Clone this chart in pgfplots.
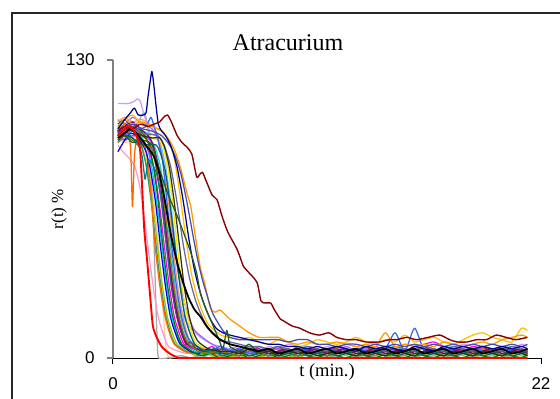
\documentclass[border=0pt]{standalone}
\usepackage{pgfplots}
\usepackage{pgfplotstable}
\pgfplotsset{compat=1.18}
\usetikzlibrary{calc}
\usepackage{fontspec}
\setmainfont{Liberation Serif}
\newfontfamily\arial{Liberation Sans}

\definecolor{cg}{HTML}{A6A6A6}
\definecolor{cpe}{HTML}{FFCC99}
\definecolor{cpk}{HTML}{FF99CC}
\definecolor{co1}{HTML}{FF6600}
\definecolor{csg}{HTML}{339966}
\definecolor{cyg}{HTML}{99CC00}
\definecolor{clv}{HTML}{CC99FF}
\definecolor{cb}{HTML}{0000FF}
\definecolor{ccy}{HTML}{00CCFF}
\definecolor{cmg}{HTML}{FF00FF}
\definecolor{cgr}{HTML}{008000}
\definecolor{cbr}{HTML}{993300}
\definecolor{ctl}{HTML}{008080}
\definecolor{cpu}{HTML}{800080}
\definecolor{col}{HTML}{808000}
\definecolor{crb}{HTML}{3366FF}
\definecolor{ctq}{HTML}{33CCCC}
\definecolor{cvi}{HTML}{9966FF}
\definecolor{cco}{HTML}{FF9966}
\definecolor{cdt}{HTML}{006666}
\definecolor{cgd}{HTML}{FFC000}
\definecolor{csk}{HTML}{66CCFF}
\definecolor{csl}{HTML}{666699}
\definecolor{cdo}{HTML}{333300}
\definecolor{cnv}{HTML}{000099}
\definecolor{cdg}{HTML}{1F5F1F}
\definecolor{co2}{HTML}{FF9900}
\definecolor{csb}{HTML}{4B4BA8}
\definecolor{cye}{HTML}{FFE600}
\definecolor{cmp}{HTML}{9933FF}
\definecolor{cmr}{HTML}{8B0000}

% tails of all curves from t = 6 min on
\pgfplotstableread{
t g pe pk o1 sg yg lv b cy mg gr br tl pu ol rb tq vi co dt gd sk bk sl do nv dg o2 sb ye mp
6.0 0 1 2 2 1 1 4 2 3 3 1 3 2 3 2 3 4 4 2 2 9 3 6 7 3 10 5 17 9 2 3
6.5 1 0 3 1 2 0 5 1 2 4 2 2 3 2 1 4 3 3 1 3 8 2 5 6 2 9 3 14 8 1 4
7.0 0 1 1 3 1 2 4 3 4 2 0 4 1 3 3 2 5 4 2 1 9 4 4 5 4 8 6 11 8 3 2
7.5 1 0 2 2 3 1 3 2 2 5 1 2 2 4 2 3 3 5 3 2 7 3 3 5 2 7 2 9 8 2 3
8.0 0 2 3 1 2 0 5 1 3 3 2 3 1 2 1 4 4 3 1 3 6 2 4 4 3 6 4 9 8 1 4
8.5 1 1 1 3 1 2 4 2 4 4 0 5 3 3 2 2 5 4 2 1 8 3 2 5 1 6 2 9 8 3 2
9.0 0 0 2 2 2 1 6 3 2 2 1 2 2 4 3 3 3 2 3 2 7 4 3 4 3 5 3 7 7 2 3
9.5 1 1 3 1 3 0 5 1 3 5 2 3 1 2 1 4 4 3 1 3 5 2 4 3 2 5 4 6 8 1 4
10.0 0 2 1 3 1 2 4 2 4 3 1 4 3 3 2 3 5 5 2 1 6 3 2 5 3 4 2 7 8 2 2
10.5 1 0 2 2 2 1 3 3 2 4 0 2 2 4 3 2 3 3 3 2 8 4 3 4 1 5 3 6 6 3 3
11.0 0 1 3 1 1 0 5 1 3 2 2 3 1 2 1 4 4 4 1 3 7 2 4 3 2 4 4 6 6 1 4
11.5 1 2 1 3 3 2 4 2 4 5 1 4 3 3 2 3 5 3 2 1 6 3 2 5 3 5 2 7 5 2 2
12.0 0 1 2 2 2 1 6 3 2 3 0 2 2 4 3 2 3 5 3 2 7 4 3 4 2 4 3 6 6 3 3
12.5 1 0 3 4 1 0 5 1 3 4 2 3 1 2 1 4 4 3 1 3 9 2 4 3 1 3 4 5 6 2 4
13.0 0 1 1 2 2 2 4 2 4 2 1 5 3 3 2 3 5 4 2 1 7 3 2 5 3 5 2 6 5 1 2
13.5 1 2 2 1 3 1 3 3 2 5 0 2 2 4 3 2 3 3 3 2 6 4 3 4 2 4 3 5 6 3 3
14.0 0 1 3 3 1 0 5 1 3 3 2 3 1 2 1 4 4 5 1 3 8 2 4 3 1 5 4 11 5 2 4
14.5 1 0 1 2 2 2 4 2 4 4 1 4 3 3 2 11 5 3 2 1 7 3 2 5 3 4 2 5 6 1 2
15.0 0 1 2 1 3 1 6 3 2 2 0 2 2 4 3 3 3 4 3 2 10 4 3 4 2 3 3 6 5 3 3
15.5 1 2 3 3 1 0 5 1 3 5 2 3 1 2 1 13 4 3 1 3 7 2 4 3 1 5 4 5 6 2 4
16.0 0 1 1 2 2 2 4 2 4 6 1 5 3 3 2 3 5 5 2 1 8 3 2 5 3 4 2 6 5 1 2
16.5 1 0 2 4 3 1 3 3 2 7 0 2 2 4 3 2 3 3 3 2 9 4 3 4 2 3 3 5 6 3 3
17.0 0 1 3 2 1 0 5 1 3 5 2 3 1 2 1 4 4 4 1 3 7 2 4 3 1 5 4 7 5 2 4
17.5 1 2 1 1 2 2 4 2 4 4 1 4 3 3 2 3 5 3 2 1 6 3 2 5 3 4 2 6 6 1 2
18.0 0 1 2 3 3 1 6 3 2 3 0 2 2 4 3 2 3 5 3 2 8 4 3 4 2 5 3 5 5 3 3
18.5 1 0 3 2 1 0 5 1 3 5 2 3 1 2 1 4 4 3 1 3 10 2 4 3 1 4 4 6 6 2 4
19.0 0 1 1 4 2 2 4 2 4 4 1 5 3 3 2 3 5 4 2 1 11 3 2 5 3 5 2 7 5 1 2
19.5 1 2 2 2 3 1 3 3 2 3 0 2 2 4 3 2 3 3 3 2 9 4 3 4 2 4 3 6 6 3 3
20.0 0 1 3 1 1 0 5 1 3 5 2 3 1 2 1 4 4 5 1 3 8 2 4 3 1 5 4 8 5 2 4
20.5 1 0 1 3 2 2 4 2 4 4 1 4 3 3 2 3 5 3 2 1 7 3 2 5 3 4 2 9 6 1 2
21.0 0 1 2 2 3 1 6 3 2 3 0 2 2 4 3 2 3 4 3 2 13 4 3 4 2 5 3 10 5 3 3
21.3 1 2 3 3 1 0 5 1 3 4 2 3 1 2 1 4 4 3 1 3 12 2 4 3 1 4 4 9 6 2 4
}\tail

\newcommand{\crv}[3]{%
  \addplot[#1] coordinates {#3};
  \addplot[#1] table[x=t,y=#2] {\tail};
}

\begin{document}
\begin{tikzpicture}
\begin{axis}[
  name=ax,
  scale only axis, width=428pt, height=298pt,
  xmin=0, xmax=22, ymin=0, ymax=130,
  axis lines*=left,
  x axis line style={black, line width=1pt},
  y axis line style={gray, line width=1.4pt},
  xtick={0,22}, ytick={0,130},
  tick align=outside, major tick length=6pt,
  xtick style={black, line width=1pt},
  ytick style={gray, line width=1.2pt},
  /pgf/number format/assume math mode=true,
  ticklabel style={font=\arial\fontsize{17}{17}\selectfont},
  yticklabel style={anchor=east, xshift=-9pt},
  xticklabel style={anchor=north, yshift=-10pt},
  xlabel={t (min.)},
  ylabel={r(t) \%},
  every axis x label/.style={at={(axis description cs:0.5,0)}, anchor=center, yshift=-14pt, font=\fontsize{18.5}{18.5}\selectfont},
  every axis y label/.style={at={(axis description cs:0,0.5)}, anchor=center, rotate=90, yshift=54pt, font=\fontsize{17}{17}\selectfont},
  every axis plot/.append style={smooth, tension=0.4, line width=1.25pt, line join=round, mark=none},
]
\crv{cpe}{pe}{(0.25,96)(0.6,94)(1.0,95)(1.35,94)(1.6,90)(1.85,82)(2.1,68)(2.35,48)(2.5,30)(2.65,12)(2.75,3)(2.9,0)(3.5,1)(4.0,0)(4.5,2)(5.0,1)(5.5,0)(6.0,1)}
\crv{cg}{g}{(0.25,94)(0.6,96)(1.0,99)(1.3,103)(1.6,107)(1.8,100)(1.95,80)(2.1,52)(2.2,25)(2.28,6)(2.35,0)(2.8,0)(3.5,1)(4.0,0)(4.5,1)(5.0,0)(5.5,1)(6.0,0)}
\crv{cpk}{pk}{(0.25,93)(0.5,90)(0.85,87)(1.1,84)(1.35,76)(1.6,62)(1.85,45)(2.1,29)(2.35,17)(2.6,10)(2.85,5)(3.35,3)(3.8,2)(4.3,3)(4.8,1)(5.3,2)(5.6,3)(6.0,2)}
\crv{cyg}{yg}{(0.25,96)(0.6,98)(1.0,95)(1.3,94)(1.55,90)(1.8,81)(2.05,67)(2.3,48)(2.55,31)(2.8,18)(3.05,11)(3.3,6)(3.8,3)(4.3,1)(4.8,2)(5.3,0)(5.6,1)(6.0,1)}
\crv{csk}{sk}{(0.25,98)(0.6,100)(1.0,101)(1.5,99)(2.2,97)(2.45,93)(2.7,84)(2.95,69)(3.2,50)(3.45,32)(3.7,19)(3.95,11)(4.2,7)(4.7,4)(5.2,3)(5.6,4)(6.0,3)}
\crv{ccy}{cy}{(0.25,100)(0.6,97)(1.0,99)(1.25,98)(1.5,96)(1.75,92)(2.0,83)(2.25,68)(2.5,50)(2.75,32)(3.0,19)(3.25,11)(3.5,6)(4.0,4)(4.5,2)(5.0,3)(5.5,4)(6.0,3)}
\crv{ctq}{tq}{(0.25,99)(0.6,97)(1.0,100)(1.45,97)(1.95,95)(2.2,91)(2.45,83)(2.7,68)(2.95,49)(3.2,31)(3.45,19)(3.7,11)(3.95,7)(4.45,5)(4.9,3)(5.4,4)(6.0,4)}
\crv{clv}{lv}{(0.25,111)(0.5,111)(0.8,111)(1.1,112)(1.25,113)(1.4,112)(1.6,106)(1.8,101)(2.1,89)(2.4,73)(2.7,53)(3.0,37)(3.3,27)(3.6,19)(3.9,14)(4.5,9)(5.1,6)(5.6,5)(6.0,4)}
\crv{cmg}{mg}{(0.25,97)(0.6,95)(1.0,97)(1.3,96)(1.65,93)(1.9,89)(2.15,81)(2.4,66)(2.65,48)(2.9,31)(3.15,18)(3.4,11)(3.65,6)(4.15,4)(4.6,3)(5.1,5)(5.5,2)(6.0,3)}
\crv{cmp}{mp}{(0.25,99)(0.6,97)(1.0,100)(1.5,98)(1.85,96)(2.1,92)(2.35,83)(2.6,68)(2.85,50)(3.1,32)(3.35,19)(3.6,11)(3.85,7)(4.35,5)(4.8,3)(5.3,4)(6.0,3)}
\crv{cvi}{vi}{(0.25,104)(0.6,102)(1.0,105)(1.4,103)(2.0,100)(2.28,96)(2.55,87)(2.83,71)(3.1,52)(3.38,36)(3.65,25)(3.93,17)(4.2,12)(4.75,8)(5.3,5)(5.7,3)(6.0,4)}
\crv{cco}{co}{(0.25,103)(0.6,105)(1.0,103)(1.5,104)(2.05,101)(2.3,97)(2.55,87)(2.8,72)(3.05,52)(3.3,33)(3.55,20)(3.8,11)(4.05,6)(4.55,3)(5.0,2)(5.5,3)(6.0,2)}
\crv{cye}{ye}{(0.25,97)(0.6,99)(1.0,96)(1.5,98)(2.0,96)(2.3,95)(2.55,93)(2.8,84)(3.05,69)(3.3,49)(3.55,31)(3.8,19)(4.05,11)(4.3,6)(4.8,4)(5.3,3)(5.6,2)(6.0,2)}
\crv{cgd}{gd}{(0.25,100)(0.6,104)(1.0,106)(1.4,103)(1.9,102)(2.3,100)(2.55,99)(2.85,95)(3.15,87)(3.45,71)(3.75,52)(4.05,36)(4.35,26)(4.65,19)(4.95,14)(5.55,10)(6.0,9)}
\crv{csg}{sg}{(0.25,99)(0.6,102)(0.9,100)(1.2,97)(1.45,93)(1.7,84)(1.95,69)(2.2,50)(2.45,32)(2.7,19)(2.95,11)(3.2,6)(3.7,3)(4.2,2)(4.7,1)(5.2,3)(5.6,2)(6.0,1)}
\crv{co1}{o1}{(0.25,98)(0.5,103)(0.7,100)(0.9,92)(1.0,66)(1.1,88)(1.25,97)(1.5,95)(1.75,88)(1.95,72)(2.15,50)(2.4,32)(2.65,19)(2.9,11)(3.15,6)(3.65,3)(4.1,2)(4.6,4)(5.1,2)(5.5,1)(6.0,2)}
\crv{cb}{b}{(0.25,90)(0.6,95)(0.9,98)(1.2,97)(1.45,94)(1.7,90)(1.95,81)(2.2,67)(2.45,48)(2.7,31)(2.95,18)(3.2,11)(3.45,6)(3.95,3)(4.4,2)(4.9,4)(5.4,2)(6.0,2)}
\crv{cgr}{gr}{(0.25,102)(0.6,104)(0.95,101)(1.3,100)(1.55,98)(1.8,94)(2.05,85)(2.3,70)(2.55,50)(2.8,32)(3.05,19)(3.3,11)(3.55,6)(4.05,3)(4.5,1)(5.0,2)(5.5,0)(6.0,1)}
\crv{cbr}{br}{(0.25,96)(0.6,99)(1.0,101)(1.4,98)(1.75,95)(2.0,91)(2.25,82)(2.5,68)(2.75,49)(3.0,31)(3.25,19)(3.5,11)(3.75,6)(4.0,7)(4.25,4)(4.7,3)(5.2,2)(5.6,4)(6.0,3)}
\crv{ctl}{tl}{(0.25,97)(0.6,99)(1.0,96)(1.3,93)(1.5,88)(1.65,78)(1.8,86)(2.0,85)(2.25,80)(2.5,68)(2.75,49)(3.0,32)(3.25,20)(3.5,12)(3.75,7)(4.25,4)(4.7,2)(5.2,3)(5.6,1)(6.0,2)}
\crv{cpu}{pu}{(0.25,98)(0.6,101)(1.0,103)(1.4,100)(1.8,97)(2.05,93)(2.3,84)(2.55,69)(2.8,50)(3.05,32)(3.3,19)(3.55,11)(3.8,6)(4.3,4)(4.8,3)(5.3,4)(5.6,2)(6.0,3)}
\crv{col}{ol}{(0.25,94)(0.6,97)(1.0,95)(1.4,92)(1.9,92)(2.15,88)(2.4,80)(2.65,66)(2.9,47)(3.15,30)(3.4,18)(3.65,10)(3.9,6)(4.4,3)(4.9,2)(5.4,3)(6.0,2)}
\crv{crb}{rb}{(0.25,101)(0.6,99)(1.0,102)(1.3,100)(1.7,101)(1.95,105)(2.15,100)(2.35,94)(2.55,86)(2.75,70)(3.0,50)(3.25,32)(3.5,19)(3.75,11)(4.0,7)(4.5,4)(5.0,3)(5.5,5)(6.0,3)}
\crv{cdt}{dt}{(0.25,95)(0.6,97)(1.0,96)(1.5,93)(2.2,93)(2.45,89)(2.7,81)(2.95,66)(3.2,48)(3.45,31)(3.7,18)(3.95,11)(4.2,6)(4.7,3)(5.2,4)(5.6,2)(6.0,2)}
\crv{csl}{sl}{(0.25,99)(0.6,101)(1.0,100)(1.5,98)(2.3,97)(2.62,93)(2.95,84)(3.27,69)(3.6,50)(3.93,35)(4.25,25)(4.58,18)(4.9,13)(5.55,8)(6.0,7)}
\crv{cdo}{do}{(0.25,97)(0.6,100)(1.0,99)(1.5,97)(2.0,96)(2.4,96)(2.65,92)(2.9,83)(3.15,68)(3.4,50)(3.65,32)(3.9,19)(4.15,11)(4.4,7)(4.9,4)(5.4,3)(6.0,3)}
\crv{co2}{o2}{(0.25,101)(0.6,104)(1.0,102)(1.5,103)(2.0,101)(2.5,99)(2.9,95)(3.2,90)(3.5,82)(3.8,72)(4.0,66)(4.25,52)(4.5,39)(4.7,33)(5.0,22)(5.25,20)(5.5,21)(5.75,19)(6.0,17)}
\crv{csb}{sb}{(0.25,98)(0.6,100)(1.0,102)(1.5,100)(2.0,99)(2.5,97)(2.9,93)(3.2,88)(3.5,80)(3.8,68)(4.1,54)(4.35,43)(4.6,34)(4.85,27)(5.1,20)(5.35,16)(5.65,12)(6.0,9)}
\crv{cnv}{nv}{(0.25,100)(0.6,104)(0.9,107)(1.1,109)(1.3,106)(1.55,106)(1.7,107)(1.8,114)(1.9,120)(2.0,125)(2.1,119)(2.2,111)(2.33,102)(2.5,99)(2.7,97)(3.0,92)(3.3,83)(3.6,69)(3.9,52)(4.15,40)(4.4,31)(4.7,23)(5.0,17)(5.3,13)(5.65,11)(6.0,10)}
\crv{cdg}{dg}{(0.25,95)(0.6,97)(1.0,94)(1.5,95)(2.0,93)(2.4,82)(2.8,72)(3.3,62)(3.7,53)(4.0,46)(4.3,37)(4.5,28)(4.8,21)(5.15,14)(5.45,8)(5.65,4)(5.85,12)(6.0,5)}
\addplot[cmr, line width=1.4pt] coordinates {(0.25,99)(0.6,101)(1.0,100)(1.4,102)(1.8,101)(2.1,102)(2.4,103)(2.6,105)(2.8,106)(3.0,103)(3.3,97)(3.55,94)(3.8,92)(4.05,89)(4.3,79)(4.45,80)(4.6,81)(4.8,77)(5.1,71)(5.35,69)(5.6,62)(5.9,55)(6.4,47)(6.7,40)(6.9,38)(7.4,33)(7.6,25)(7.8,24)(8.1,24)(8.3,21)(8.6,17)(8.8,16)(9.2,14)(9.6,13)(10.1,11)(10.6,10)(11.1,11)(11.5,9)(12.0,8)(12.5,8)(13.0,7)(13.7,7)(14.2,8)(14.6,8)(15.1,9)(15.6,8)(16.2,9)(16.8,10)(17.3,8)(17.7,7)(18.2,7)(18.7,8)(19.2,8)(19.7,10)(20.2,9)(20.7,8)(21.3,9)};
\crv{black, line width=1.8pt}{bk}{(0.25,96)(0.6,98)(0.9,100)(1.2,98)(1.5,95)(1.85,91)(2.1,88)(2.4,80)(2.7,67)(2.95,55)(3.15,47)(3.35,40)(3.6,33)(3.9,26)(4.2,21)(4.5,18)(4.8,14)(5.1,11)(5.5,8)(6.0,6)}
\addplot[red, line width=1.9pt] coordinates {(0.25,97)(0.5,99)(0.75,101)(1.0,100)(1.2,97)(1.4,90)(1.6,57)(1.75,43)(1.9,28)(2.05,14)(2.25,9)(2.5,5)(2.75,3)(3.0,1.5)(3.25,0.5)(3.5,0)(6.0,0)(21.3,0)};
\end{axis}
\coordinate (O) at (ax.south west);
\pgfresetboundingbox
\useasboundingbox ($(O)+(-113pt,-41pt)$) rectangle ($(O)+(447pt,358pt)$);
\draw[line width=1.3pt, black!85] ($(O)+(-101pt,-80pt)$) -- ($(O)+(-101pt,345pt)$) -- ($(O)+(500pt,345pt)$);
\node[font=\fontsize{24}{24}\selectfont] at ($(O)+(175pt,315pt)$) {Atracurium};
\end{tikzpicture}
\end{document}
